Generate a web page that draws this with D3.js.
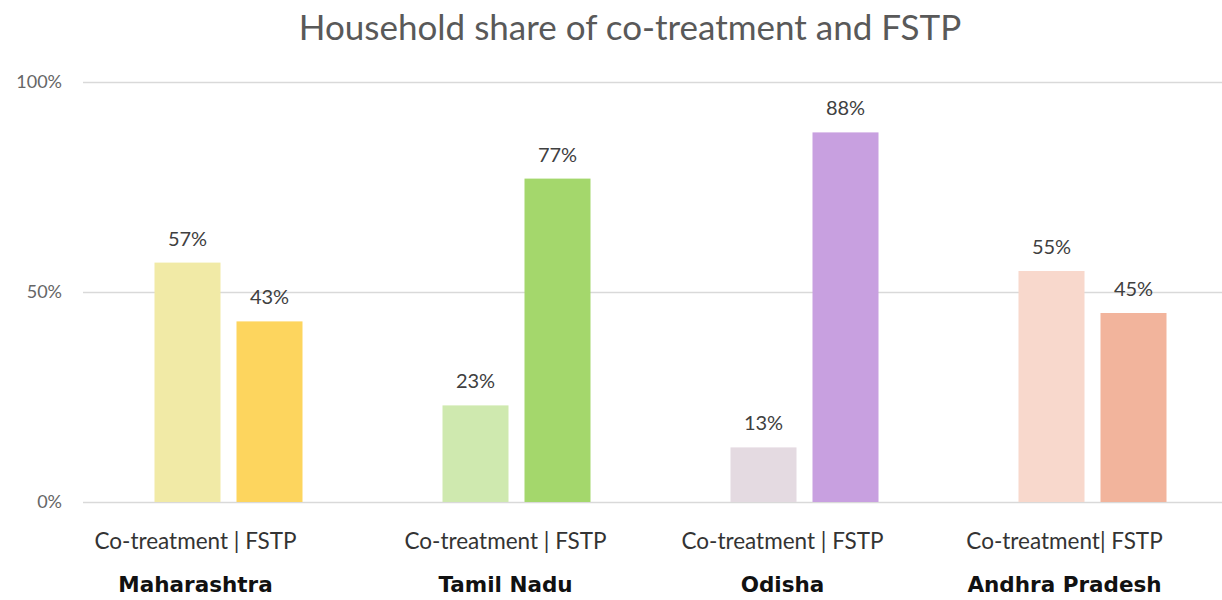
<!DOCTYPE html>
<html>
<head>
<meta charset="utf-8">
<script src="https://cdn.jsdelivr.net/npm/d3@7"></script>
<style>
  html, body { margin: 0; padding: 0; background: #ffffff; }
  svg { display: block; font-family: "Lato", "Open Sans", sans-serif; }
</style>
</head>
<body>
<svg id="chart" width="1222" height="600"></svg>
<script>
// ---- data ----
const states = ["Maharashtra", "Tamil Nadu", "Odisha", "Andhra Pradesh"];
const seriesNames = ["Co-treatment", "FSTP"];
const coTreatment = [57, 23, 13, 55];
const fstp = [43, 77, 88, 45];
const subLabels = ["Co-treatment | FSTP", "Co-treatment | FSTP", "Co-treatment | FSTP", "Co-treatment| FSTP"];
const yTicks = [0, 50, 100];
const title = "Household share of co-treatment and FSTP";

// ---- styles / layout ----
const colors = [
  ["#F1EAA6", "#FDD55E"],
  ["#CFE9AF", "#A4D76C"],
  ["#E4DAE1", "#C8A0E0"],
  ["#F8D8CC", "#F2B49C"]
];
const labelDx = [-33, -11, -22, -28];

const svg = d3.select("#chart");
const W = 1222, H = 600;

const x0 = d3.scaleBand().domain(states).range([84.5, 1236.5]).padding(0);
const groupW = 148;
const x1 = d3.scaleBand().domain(seriesNames).range([0, groupW]).paddingInner(16 / 82).paddingOuter(0);
const y = d3.scaleLinear().domain([0, 100]).range([502, 82]);

// title
svg.append("text")
  .attr("x", 630).attr("y", 40)
  .attr("text-anchor", "middle")
  .attr("font-size", 35)
  .attr("fill", "#595959")
  .text(title);

// grid + y-axis
const yAxis = d3.axisLeft(y).tickValues(yTicks).tickSize(-(W - 83)).tickFormat(d => d + "%");
const gy = svg.append("g").attr("transform", "translate(83,0)").call(yAxis);
gy.select(".domain").remove();
gy.selectAll(".tick line").attr("stroke", "#d9d9d9").attr("stroke-width", 1.3);
gy.selectAll(".tick text")
  .attr("x", -21)
  .attr("font-size", 18)
  .attr("fill", "#666666")
  .attr("font-family", "Lato, sans-serif");

// data rows
const rows = states.map((s, i) => ({ state: s, i, values: [coTreatment[i], fstp[i]] }));

const groups = svg.append("g").selectAll("g.grp").data(rows).join("g")
  .attr("class", "grp")
  .attr("transform", d => `translate(${x0(d.state) + (x0.bandwidth() - groupW) / 2},0)`);

groups.selectAll("rect").data(d => d.values.map((v, k) => ({ v, k, i: d.i })))
  .join("rect")
  .attr("x", d => x1(seriesNames[d.k]))
  .attr("y", d => y(d.v))
  .attr("width", x1.bandwidth())
  .attr("height", d => y(0) - y(d.v))
  .attr("fill", d => colors[d.i][d.k]);

groups.selectAll("text.val").data(d => d.values.map((v, k) => ({ v, k })))
  .join("text")
  .attr("class", "val")
  .attr("x", d => x1(seriesNames[d.k]) + x1.bandwidth() / 2)
  .attr("y", d => y(d.v) - 17)
  .attr("text-anchor", "middle")
  .attr("font-size", 20)
  .attr("fill", "#404040")
  .text(d => d.v + "%");

// category labels
const lab = svg.append("g").selectAll("g.lab").data(rows).join("g")
  .attr("class", "lab")
  .attr("transform", d => `translate(${x0(d.state) + x0.bandwidth() / 2 + labelDx[d.i]},0)`);

lab.append("text")
  .attr("y", 549)
  .attr("text-anchor", "middle")
  .attr("font-size", 22.5)
  .attr("fill", "#333333")
  .text(d => subLabels[d.i]);

lab.append("text")
  .attr("y", 592)
  .attr("text-anchor", "middle")
  .attr("font-size", 21.5)
  .attr("font-weight", "bold")
  .attr("font-family", "'DejaVu Sans', sans-serif")
  .attr("fill", "#111111")
  .text(d => d.state);
</script>
</body>
</html>
